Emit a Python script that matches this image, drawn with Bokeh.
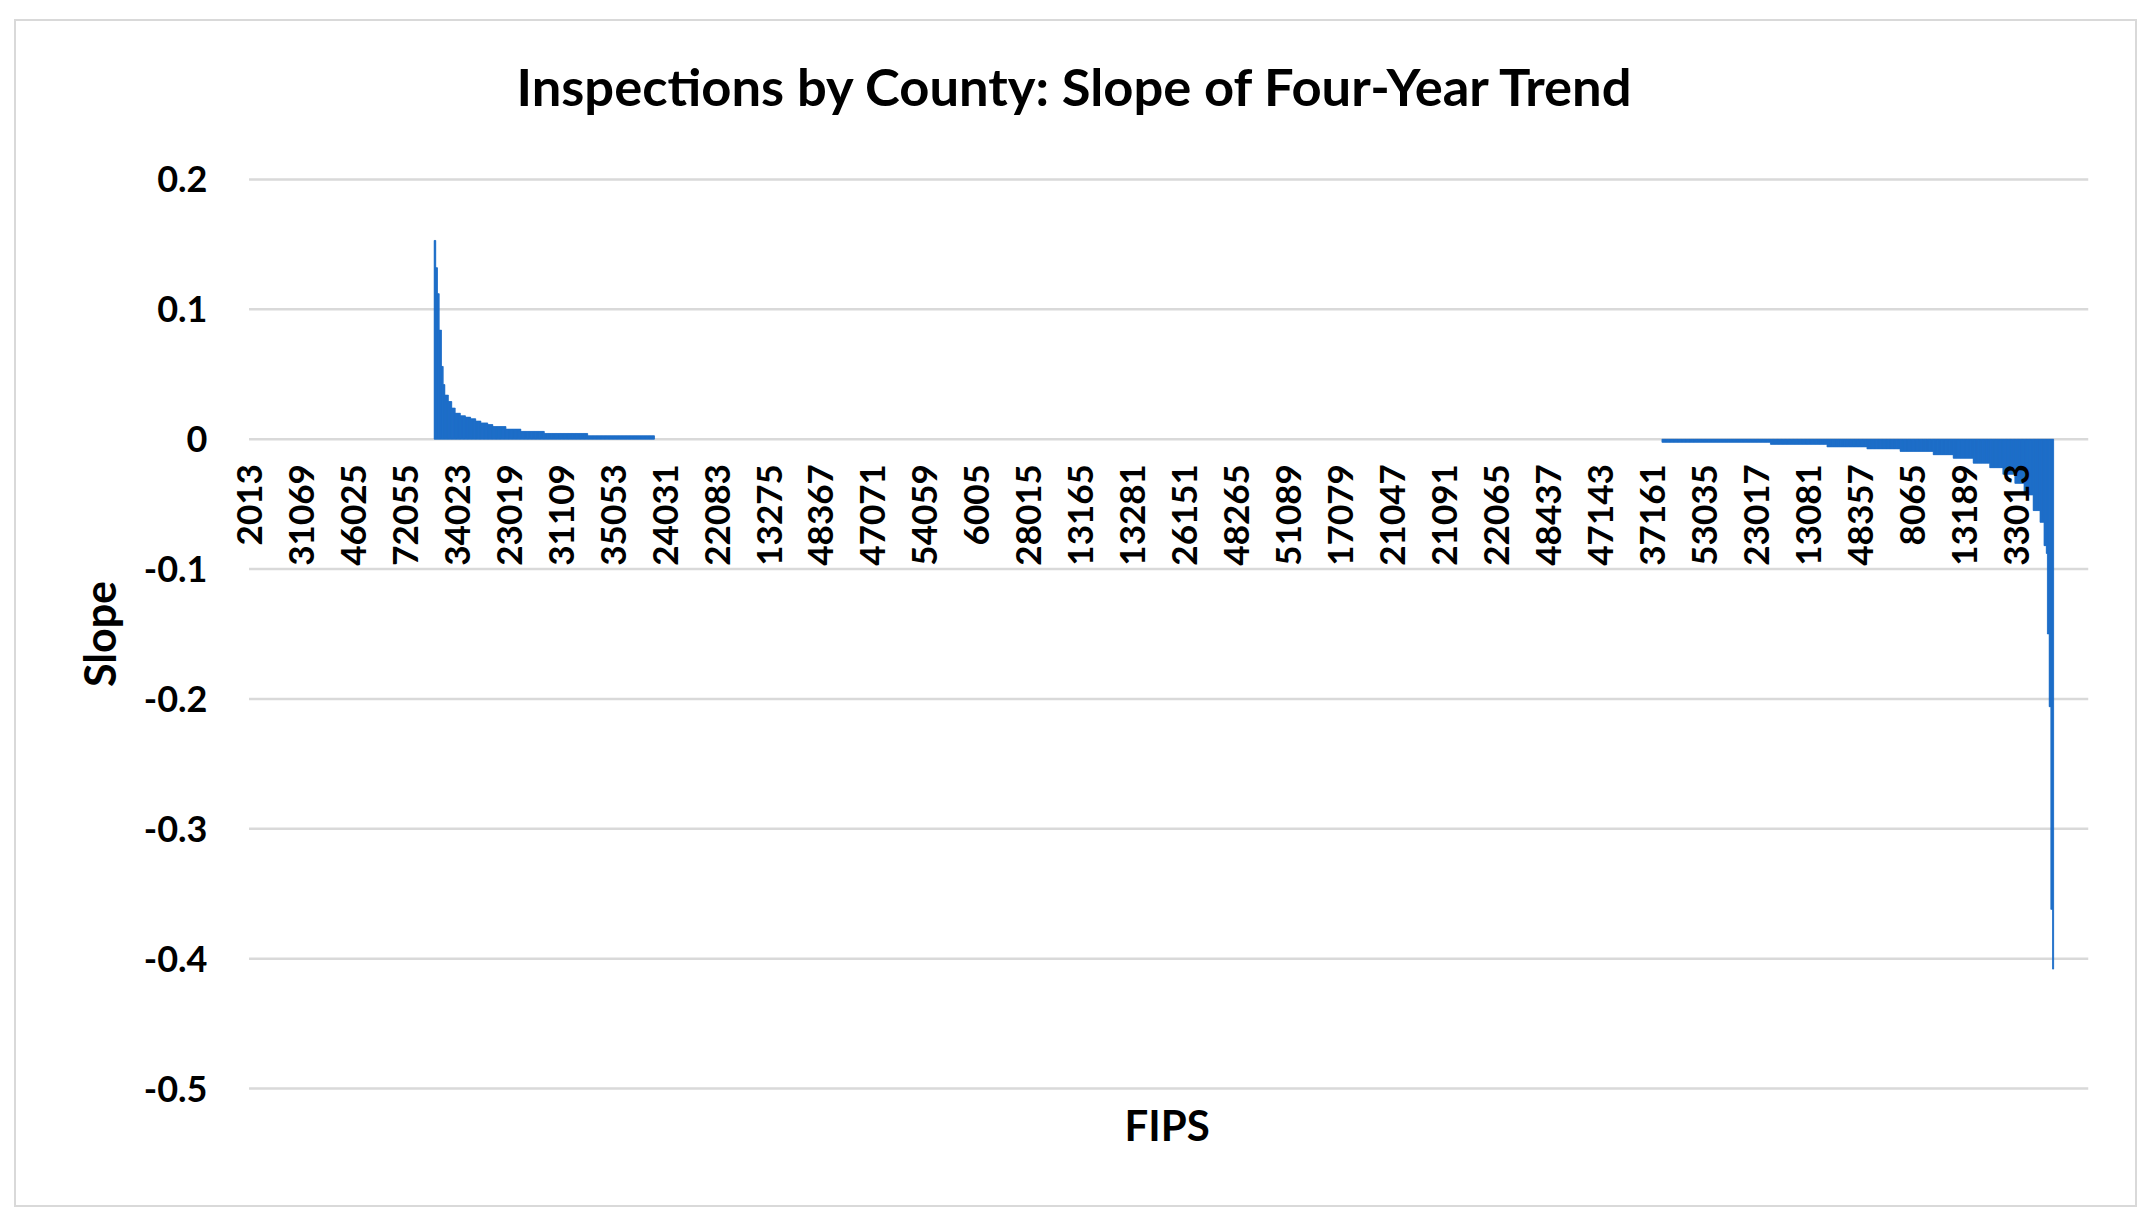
import numpy as np
from bokeh.plotting import figure
from bokeh.models import Range1d, FixedTicker, Title, ColumnDataSource
from bokeh.embed import file_html
from bokeh.resources import INLINE

# ---------------- data ----------------
n_counties = 3221
label_every = 91
fips_labels = ["2013", "31069", "46025", "72055", "34023", "23019", "31109",
               "35053", "24031", "22083", "13275", "48367", "47071", "54059",
               "6005", "28015", "13165", "13281", "26151", "48265", "51089",
               "17079", "21047", "21091", "22065", "48437", "47143", "37161",
               "53035", "23017", "13081", "48357", "8065", "13189", "33013"]

# counties in sort order: zero slope, positive slopes, zero slope, negative slopes, zero slope
lead_zero_count = 324
pos_slopes = [0.153, 0.132, 0.112, 0.084, 0.056, 0.042, 0.034, 0.029, 0.024,
              0.020, 0.018, 0.017, 0.0157, 0.014, 0.0125, 0.0112, 0.0097,
              0.0078, 0.006, 0.0044, 0.0026]
pos_counts = [3, 3, 3, 4, 3, 3, 6, 6, 6, 9, 9, 9, 9, 9, 12, 9, 23, 26, 41, 76, 117]
mid_zero_count = 1764
neg_slopes = [-0.0024, -0.004, -0.006, -0.0075, -0.0094, -0.012, -0.0147,
              -0.0185, -0.022, -0.027, -0.034, -0.043, -0.055, -0.064,
              -0.082, -0.088, -0.150, -0.206, -0.362, -0.408]
neg_counts = [190, 99, 70, 58, 58, 35, 35, 29, 23, 21, 16, 16, 12, 7, 4, 2, 3, 3, 3, 2]
trail_zero_count = 61

y_ticks = [-0.5, -0.4, -0.3, -0.2, -0.1, 0, 0.1, 0.2]
y_tick_labels = ["-0.5", "-0.4", "-0.3", "-0.2", "-0.1", "0", "0.1", "0.2"]

title_text = "Inspections by County: Slope of Four-Year Trend"
x_title = "FIPS"
y_title = "Slope"

# ---------------- build series ----------------
slopes = np.concatenate([
    np.zeros(lead_zero_count),
    np.repeat(pos_slopes, pos_counts),
    np.zeros(mid_zero_count),
    np.repeat(neg_slopes, neg_counts),
    np.zeros(trail_zero_count),
])
idx = np.arange(len(slopes))
mask = slopes != 0
src = ColumnDataSource(dict(x=idx[mask], top=slopes[mask]))

BLUE = "#1b6bc8"
GRID = "#d9d9d9"
FONT = "Lato"
PAD = 50  # empty room left of the first category so its label is not clipped

p = figure(width=2123, height=1188, output_backend="svg", toolbar_location=None,
           title=None,
           x_range=Range1d(-0.5 - PAD, n_counties - 0.5),
           y_range=Range1d(-0.503, 0.203),
           min_border_left=204, min_border_right=51, min_border_top=154,
           min_border_bottom=117)
p.styles = {"border": "2px solid #d9d9d9",
            "margin-left": "14px", "margin-top": "19px"}
p.outline_line_color = None
p.background_fill_color = "white"
p.border_fill_color = "white"

# horizontal gridlines, spanning the category area only
p.segment(x0=-0.5, x1=n_counties - 0.5, y0=y_ticks, y1=y_ticks,
          line_color=GRID, line_width=2.5)

p.vbar(x="x", top="top", bottom=0, width=1.0, source=src,
       fill_color=BLUE, line_color=BLUE, line_width=0.6)

p.xgrid.visible = False
p.ygrid.visible = False

# x axis (category labels sit on the zero line)
xa = p.xaxis[0]
xa.fixed_location = 0
xa.ticker = FixedTicker(ticks=[i * label_every for i in range(len(fips_labels))])
xa.major_label_overrides = {i * label_every: lab for i, lab in enumerate(fips_labels)}
xa.major_label_orientation = np.pi / 2
xa.major_label_standoff = 19
xa.major_tick_line_color = None
xa.minor_tick_line_color = None
xa.axis_line_color = None
xa.major_label_text_font = FONT
xa.major_label_text_font_style = "bold"
xa.major_label_text_font_size = "35px"
xa.major_label_text_color = "black"

# y axis
ya = p.yaxis[0]
ya.ticker = FixedTicker(ticks=y_ticks)
ya.major_label_overrides = dict(zip(y_ticks, y_tick_labels))
ya.major_tick_line_color = None
ya.minor_tick_line_color = None
ya.axis_line_color = None
ya.major_label_standoff = 7
ya.major_label_text_font = FONT
ya.major_label_text_font_style = "bold"
ya.major_label_text_font_size = "36px"
ya.major_label_text_color = "black"
ya.axis_label = y_title
ya.axis_label_standoff = 16
ya.axis_label_text_font = FONT
ya.axis_label_text_font_style = "bold"
ya.axis_label_text_font_size = "43px"
ya.axis_label_text_color = "black"

# blank band between the chart title and the plot area, then the title itself
p.add_layout(Title(text=" ", standoff=46, text_font_size="10px"), "above")
p.add_layout(Title(text=title_text, align="left", offset=296, standoff=0,
                   text_font=FONT, text_font_style="bold",
                   text_font_size="52.5px", text_color="black"), "above")

# x axis title
p.add_layout(Title(text=x_title, align="left", offset=904, standoff=11,
                   text_font=FONT, text_font_style="bold",
                   text_font_size="42px", text_color="black"), "below")

open("out.html", "w").write(file_html(p, INLINE))
